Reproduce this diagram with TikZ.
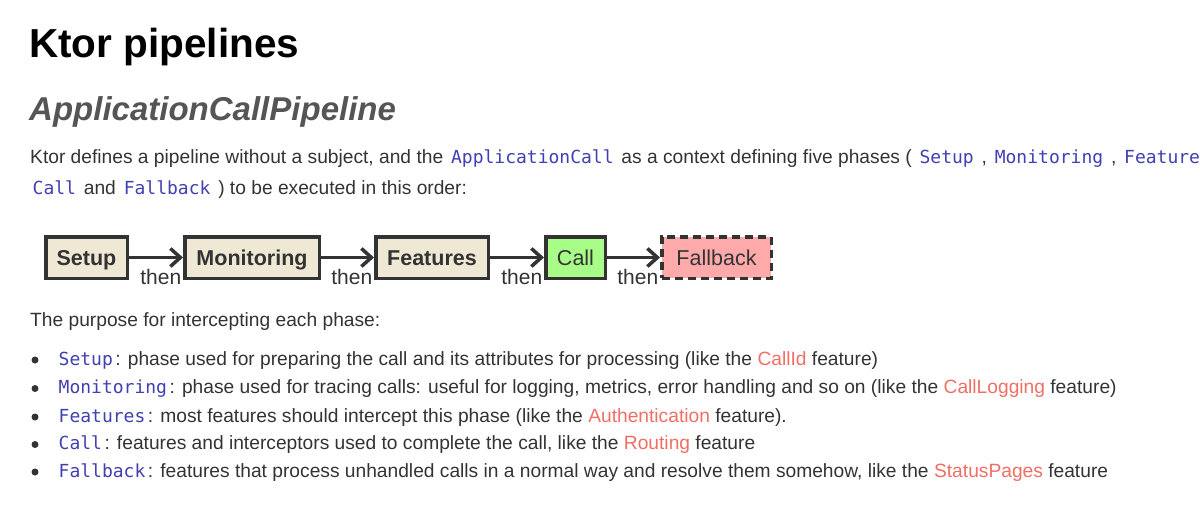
\documentclass[tikz,border=0pt]{standalone}
\usepackage{fontspec}
\setmainfont{Liberation Sans}
\newfontfamily\codefont{DejaVu Sans Mono}
\usepackage{xcolor}
\usetikzlibrary{arrows.meta}
\definecolor{body}{RGB}{51,51,51}
\definecolor{head}{RGB}{85,85,85}
\definecolor{codeblue}{RGB}{64,64,178}
\definecolor{link}{RGB}{240,110,100}
\definecolor{edge}{RGB}{51,51,51}
\definecolor{phase}{RGB}{238,232,213}
\definecolor{callgreen}{RGB}{168,253,136}
\definecolor{fallpink}{RGB}{255,170,170}
\newcommand{\code}[1]{\hspace{2.5pt}{\codefont\fontsize{18}{20}\selectfont\color{codeblue}#1}\hspace{2.5pt}}
\newcommand{\lnk}[1]{\textcolor{link}{#1}}
\tikzset{
  phasebox/.style={draw=edge, line width=3.5pt, fill=phase, minimum height=41.5pt, inner sep=0pt, text height=15.5pt, text depth=0pt, text=edge, font=\fontsize{21.5}{24}\selectfont\bfseries},
  thenarrow/.style={draw=edge, line width=3.5pt, -{Straight Barb[length=10pt,width=18pt]}},
  thenlabel/.style={anchor=north east, inner sep=0pt, yshift=-10.5pt, text=body, font=\fontsize{21}{24}\selectfont},
  bodytext/.style={anchor=base west, inner sep=0pt, text=body, font=\fontsize{19.2}{22}\selectfont}
}
\begin{document}
\begin{tikzpicture}[x=1pt,y=-1pt]
\useasboundingbox (0,0) rectangle (1200,506);
\node[anchor=base west, inner sep=0pt, font=\fontsize{40.5}{44}\selectfont\bfseries] (title) at (29,57) {Ktor pipelines};
\node[anchor=base west, inner sep=0pt, text=head, font=\fontsize{33}{36}\selectfont\bfseries\itshape] (subtitle) at (29,120) {ApplicationCallPipeline};
\node[bodytext] (intro1) at (30,163) {Ktor defines a pipeline without a subject, and the \code{ApplicationCall} as a context defining five phases ( \code{Setup} , \code{Monitoring} , \code{Feature}};
\node[bodytext] (intro2) at (30,194) {\code{Call} and \code{Fallback} ) to be executed in this order:};
\node[phasebox, minimum width=81.5pt] (setup) at (86.5,257.5) {Setup};
\node[phasebox, minimum width=134.5pt] (monitoring) at (252,257.5) {Monitoring};
\node[phasebox, minimum width=112.5pt] (features) at (432,257.5) {Features};
\node[phasebox, minimum width=59.5pt, fill=callgreen, font=\fontsize{21.5}{24}\selectfont] (call) at (575.5,257.5) {Call};
\node[phasebox, minimum width=109.5pt, fill=fallpink, dash pattern=on 8pt off 5pt, font=\fontsize{21.5}{24}\selectfont] (fallback) at (716.5,257.5) {Fallback};
\draw[thenarrow] (setup) -- (monitoring) node[thenlabel, pos=1] (then1) {then};
\draw[thenarrow] (monitoring) -- (features) node[thenlabel, pos=1] (then2) {then};
\draw[thenarrow] (features) -- (call) node[thenlabel, pos=1] (then3) {then};
\draw[thenarrow] (call) -- (fallback) node[thenlabel, pos=1] (then4) {then};
\node[bodytext] (purpose) at (30,326) {The purpose for intercepting each phase:};
\foreach \y in {360,388.5,417,444.5,472}{
  \fill[body] (35,\y) circle (3.5pt);
}
\node[bodytext] (item1) at (56,365) {\code{Setup}: phase used for preparing the call and its attributes for processing (like the \lnk{CallId} feature)};
\node[bodytext] (item2) at (56,393.5) {\code{Monitoring}: phase used for tracing calls: useful for logging, metrics, error handling and so on (like the \lnk{CallLogging} feature)};
\node[bodytext] (item3) at (56,422) {\code{Features}: most features should intercept this phase (like the \lnk{Authentication} feature).};
\node[bodytext] (item4) at (56,449.5) {\code{Call}: features and interceptors used to complete the call, like the \lnk{Routing} feature};
\node[bodytext] (item5) at (56,477) {\code{Fallback}: features that process unhandled calls in a normal way and resolve them somehow, like the \lnk{StatusPages} feature};
\end{tikzpicture}
\end{document}
